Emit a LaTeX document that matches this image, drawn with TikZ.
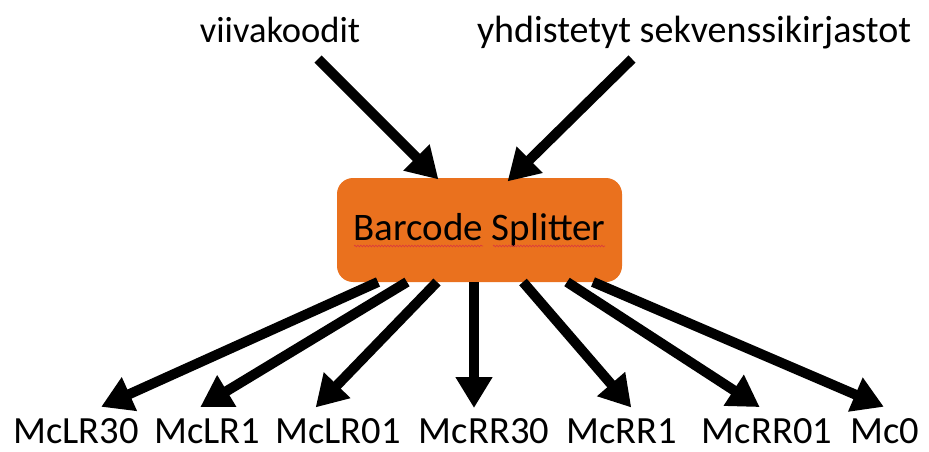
\documentclass[tikz,border=0pt]{standalone}
\usepackage{fontspec}
\setmainfont{Carlito}
\usetikzlibrary{arrows.meta,decorations.pathmorphing}
\definecolor{boxorange}{RGB}{234,113,30}
\definecolor{squig}{RGB}{220,60,60}
\begin{document}
\begin{tikzpicture}[x=1pt,y=-1pt,
  lbl/.style={inner sep=0pt,font=\fontsize{38.5}{44}\selectfont},
  toplbl/.style={inner sep=0pt,font=\fontsize{36.5}{42}\selectfont},
  splitbox/.style={fill=boxorange,rounded corners=16pt,minimum width=285pt,minimum height=104pt,inner sep=0pt,font=\fontsize{39}{45}\selectfont},
  fat/.style={line width=10pt,-{Triangle[length=31pt,width=35pt]},shorten >=-2pt},
  squiggle/.style={squig,line width=0.7pt,decorate,decoration={snake,amplitude=0.8pt,segment length=3pt}}]
\useasboundingbox (0,0) rectangle (929,452);
\node[splitbox] (bs) at (479.5,230) {Barcode Splitter};
\draw[squiggle] (354,246) -- (483,246);
\draw[squiggle] (493,246) -- (605,246);
\node[toplbl,anchor=base] (v) at (280,43) {viivakoodit};
\node[toplbl,anchor=base,font=\fontsize{38}{42}\selectfont] (y) at (694,43) {yhdistetyt sekvenssikirjastot};
\foreach \n/\x/\t in {a/76/McLR30,b/207/McLR1,c/338/McLR01,d/484/McRR30,e/622/McRR1,f/767/McRR01,g/885/Mc0}
  \node[lbl,anchor=base] (\n) at (\x,443) {\t};
% connector ends
\coordinate (v1) at (318,59);
\coordinate (y1) at (632,59);
\coordinate (vt) at (437,178);
\coordinate (yt) at (509,180);
\foreach \n/\sx/\tx in {a/378/103,b/407/202,c/437/317,d/474/474,e/523/630,f/567/758,g/593/882}{
  \coordinate (s\n) at (\sx,282);
  \coordinate (t\n) at (\tx,406);
}
\draw[fat] (v1) -- (vt);
\draw[fat] (y1) -- (yt);
\foreach \n in {a,b,c,d,e,f,g}
  \draw[fat] (s\n) -- (t\n);
\end{tikzpicture}
\end{document}
